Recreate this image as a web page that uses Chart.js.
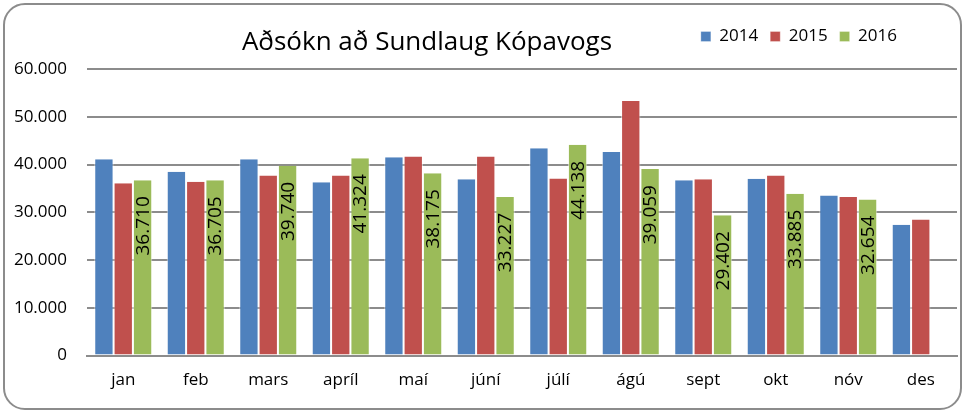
<!DOCTYPE html>
<html>
<head>
<meta charset="utf-8">
<script src="https://cdn.jsdelivr.net/npm/chart.js@4/dist/chart.umd.min.js"></script>
<style>
  html, body { margin: 0; padding: 0; background: #fff; }
  #wrap {
    position: absolute; left: 3px; top: 3px; width: 955px; height: 403px;
    border: 2px solid #8c8c8c; border-radius: 22px; background: #fff;
  }
  #box { position: absolute; left: 0; top: 0; width: 955px; height: 403px; }
</style>
</head>
<body>
<div id="wrap"><div id="box"><canvas id="chart"></canvas></div></div>
<script>
// gögn
const months = ['jan', 'feb', 'mars', 'apríl', 'maí', 'júní', 'júlí', 'ágú', 'sept', 'okt', 'nóv', 'des'];
const years = ['2014', '2015', '2016'];
const visits2014 = [41100, 38500, 41100, 36300, 41500, 36900, 43400, 42600, 36700, 37000, 33500, 27400];
const visits2015 = [36100, 36400, 37700, 37700, 41700, 41700, 37100, 53300, 36900, 37700, 33200, 28500];
const visits2016 = [36710, 36705, 39740, 41324, 38175, 33227, 44138, 39059, 29402, 33885, 32654, null];
const yTicks = [0, 10000, 20000, 30000, 40000, 50000, 60000];
const chartTitle = 'Aðsókn að Sundlaug Kópavogs';

const FONT = "'Open Sans', 'Noto Sans', sans-serif";

function fmt(n) {
    return n.toString().replace(/\B(?=(\d{3})+(?!\d))/g, '.');
}

// titill + staðsetning skýringar
const titlePlugin = {
    id: 'titlePlugin',
    beforeInit(chart) {
        const origFit = chart.legend.fit;
        chart.legend.fit = function () {
            origFit.bind(chart.legend)();
            this.height += 14;
        };
    },
    afterLayout(chart) {
        chart.legend.right = 904;
    },
    afterDraw(chart) {
        const ctx = chart.ctx;
        ctx.save();
        ctx.font = '26px ' + FONT;
        ctx.fillStyle = '#000';
        ctx.textAlign = 'center';
        ctx.textBaseline = 'middle';
        ctx.fillText(chartTitle, 422, 38);
        ctx.restore();
    }
};

// lóðréttar tölur á 2016 súlum
const labelPlugin = {
    id: 'labelPlugin',
    afterDatasetsDraw(chart) {
        const ctx = chart.ctx;
        const meta = chart.getDatasetMeta(2);
        ctx.save();
        ctx.font = '19px ' + FONT;
        ctx.fillStyle = '#000';
        ctx.textAlign = 'right';
        ctx.textBaseline = 'middle';
        meta.data.forEach((bar, i) => {
            const v = visits2016[i];
            if (v == null) return;
            ctx.save();
            ctx.translate(bar.x, bar.y + 16);
            ctx.rotate(-Math.PI / 2);
            ctx.fillText(fmt(v), 0, 1);
            ctx.restore();
        });
        ctx.restore();
    }
};

const colors = ['#4F81BD', '#C0504D', '#9BBB59'];
const series = [visits2014, visits2015, visits2016];

new Chart(document.getElementById('chart'), {
    type: 'bar',
    data: {
        labels: months,
        datasets: years.map((y, i) => ({
            label: y,
            data: series[i],
            backgroundColor: colors[i],
            borderColor: 'rgba(255,255,255,0.6)',
            borderWidth: { left: 1, right: 1, top: 0, bottom: 0 },
            categoryPercentage: 0.8,
            barPercentage: 1.0
        }))
    },
    options: {
        responsive: true,
        maintainAspectRatio: false,
        animation: false,
        layout: { padding: { left: 0, right: 3, top: 11, bottom: 4 } },
        plugins: {
            legend: {
                position: 'top',
                align: 'end',
                labels: {
                    font: { family: FONT, size: 17 },
                    color: '#000',
                    boxWidth: 10,
                    boxHeight: 10,
                    padding: 12
                }
            },
            tooltip: { enabled: false }
        },
        scales: {
            x: {
                grid: { display: false, drawTicks: false },
                border: { color: '#8c8c8c', width: 2 },
                ticks: { font: { family: FONT, size: 17 }, color: '#000', padding: 14 }
            },
            y: {
                min: 0,
                max: 60000,
                afterBuildTicks(axis) {
                    axis.ticks = yTicks.map(v => ({ value: v }));
                },
                afterFit(axis) {
                    axis.width = 82;
                },
                grid: { color: '#8c8c8c', lineWidth: 2, drawTicks: false },
                border: { display: false },
                ticks: {
                    font: { family: FONT, size: 17 },
                    color: '#000',
                    padding: 20,
                    callback: v => fmt(v)
                }
            }
        }
    },
    plugins: [titlePlugin, labelPlugin]
});
</script>
</body>
</html>
